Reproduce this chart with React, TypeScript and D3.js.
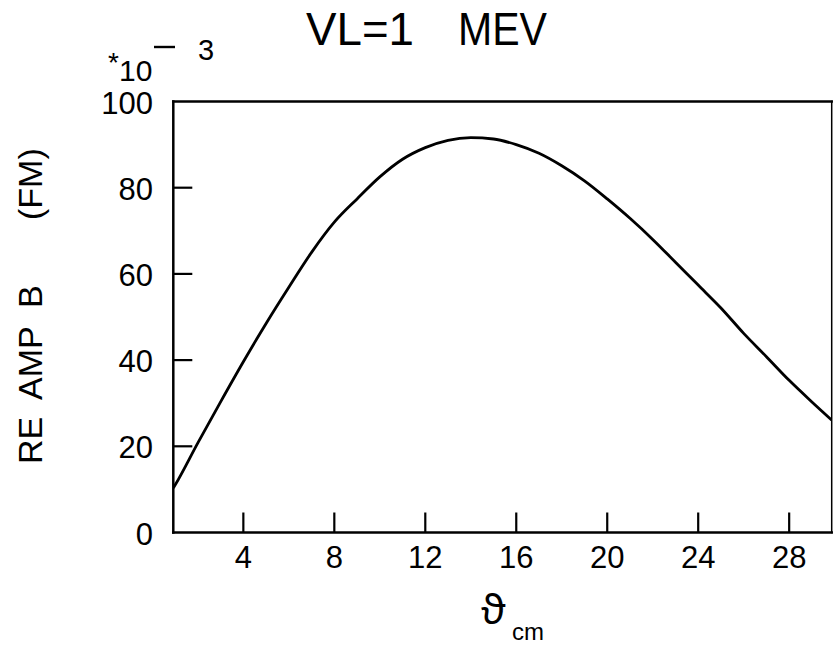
import React from "react";
import * as d3 from "d3";

// Scattering angle (cm frame, degrees) and real part of amplitude B (units of 1e-3 fm)
const theta = [
  0.92, 1, 2, 3, 4, 5, 6, 7, 8, 9, 10, 11, 12, 13, 14, 15, 16, 17, 18, 19, 20,
  21, 22, 23, 24, 25, 26, 27, 28, 29, 29.87,
];
const reAmpB = [
  10.3, 11.0, 20.8, 30.3, 39.6, 48.5, 56.9, 65.0, 72.0, 77.4, 82.5, 86.6, 89.3,
  91.0, 91.6, 91.3, 90.0, 88.0, 85.1, 81.6, 77.4, 72.9, 68.0, 62.7, 57.4, 52.1,
  46.2, 40.8, 35.3, 30.3, 26.1,
];

const xTicks = [4, 8, 12, 16, 20, 24, 28];
const yTickMarks = [20, 40, 60, 80];
const yTickLabels = [0, 20, 40, 60, 80, 100];

const FONT = "'Liberation Sans', Arial, sans-serif";

export default function App() {
  const W = 833;
  const H = 656;

  const x = d3.scaleLinear().domain([0.92, 29.87]).range([173.3, 831.7]);
  const y = d3.scaleLinear().domain([0, 100]).range([532.5, 101.5]);

  const [x0, x1] = x.range();
  const [y0, y1] = y.range();

  const line = d3
    .line<number>()
    .x((_, i) => x(theta[i]))
    .y((d) => y(d))
    .curve(d3.curveMonotoneX);

  const tickLen = 20;

  return (
    <svg
      width={W}
      height={H}
      viewBox={`0 0 ${W} ${H}`}
      style={{ position: "absolute", left: 0, top: 0, display: "block", background: "#fff" }}
    >
      <rect x={0} y={0} width={W} height={H} fill="#fff" />
      <defs>
        <clipPath id="plot-area">
          <rect x={x0} y={y1} width={x1 - x0} height={y0 - y1} />
        </clipPath>
      </defs>

      {/* title */}
      <text x={306} y={45} fontFamily={FONT} fontSize={46} textLength={108} lengthAdjust="spacingAndGlyphs" fill="#000">
        VL=1
      </text>
      <text x={458} y={45} fontFamily={FONT} fontSize={46} textLength={89} lengthAdjust="spacingAndGlyphs" fill="#000">
        MEV
      </text>

      {/* scale factor */}
      <text x={108} y={72} fontFamily={FONT} fontSize={28} fill="#000">*</text>
      <text x={119} y={81} fontFamily={FONT} fontSize={30} fill="#000">10</text>
      <line x1={154} x2={175} y1={47} y2={47} stroke="#000" strokeWidth={2.4} />
      <text x={198} y={60} fontFamily={FONT} fontSize={29} fill="#000">3</text>

      {/* frame */}
      <g stroke="#000" fill="none" strokeLinecap="square">
        <line x1={x0} x2={x0} y1={y1} y2={y0} strokeWidth={2.5} />
        <line x1={x0} x2={x1} y1={y0} y2={y0} strokeWidth={2.5} />
        <line x1={x0} x2={x1} y1={y1} y2={y1} strokeWidth={2.5} />
        <line x1={x1} x2={x1} y1={y1} y2={y0} strokeWidth={1.5} />
      </g>

      {/* x ticks */}
      <g stroke="#000" strokeWidth={2.2}>
        {xTicks.map((t) => (
          <line key={t} x1={x(t)} x2={x(t)} y1={y0} y2={y0 - tickLen} />
        ))}
      </g>
      <g fontFamily={FONT} fontSize={31} textAnchor="middle" fill="#000">
        {xTicks.map((t) => (
          <text key={t} x={x(t)} y={568}>
            {t}
          </text>
        ))}
      </g>

      {/* y ticks */}
      <g stroke="#000" strokeWidth={2.2}>
        {yTickMarks.map((t) => (
          <line key={t} x1={x0} x2={x0 + 19} y1={y(t)} y2={y(t)} />
        ))}
      </g>
      <g fontFamily={FONT} fontSize={31} textAnchor="end" fill="#000">
        {yTickLabels.map((t) => (
          <text key={t} x={153} y={y(t) + 12}>
            {t}
          </text>
        ))}
      </g>

      {/* y axis label */}
      <g fontFamily={FONT} fontSize={34} fill="#000">
        <text transform="translate(42,464) rotate(-90)">RE</text>
        <text transform="translate(42,400) rotate(-90)">AMP</text>
        <text transform="translate(42,308) rotate(-90)">B</text>
        <text transform="translate(42,220) rotate(-90)">(FM)</text>
      </g>

      {/* x axis label */}
      <text x={481} y={624} fontFamily="'Noto Sans', 'DejaVu Sans', sans-serif" fontSize={40} fill="#000">
        ϑ
      </text>
      <text x={512} y={640} fontFamily={FONT} fontSize={24} fill="#000">
        cm
      </text>

      {/* curve */}
      <path
        d={line(reAmpB) ?? ""}
        fill="none"
        stroke="#000"
        strokeWidth={2.8}
        clipPath="url(#plot-area)"
      />
    </svg>
  );
}
